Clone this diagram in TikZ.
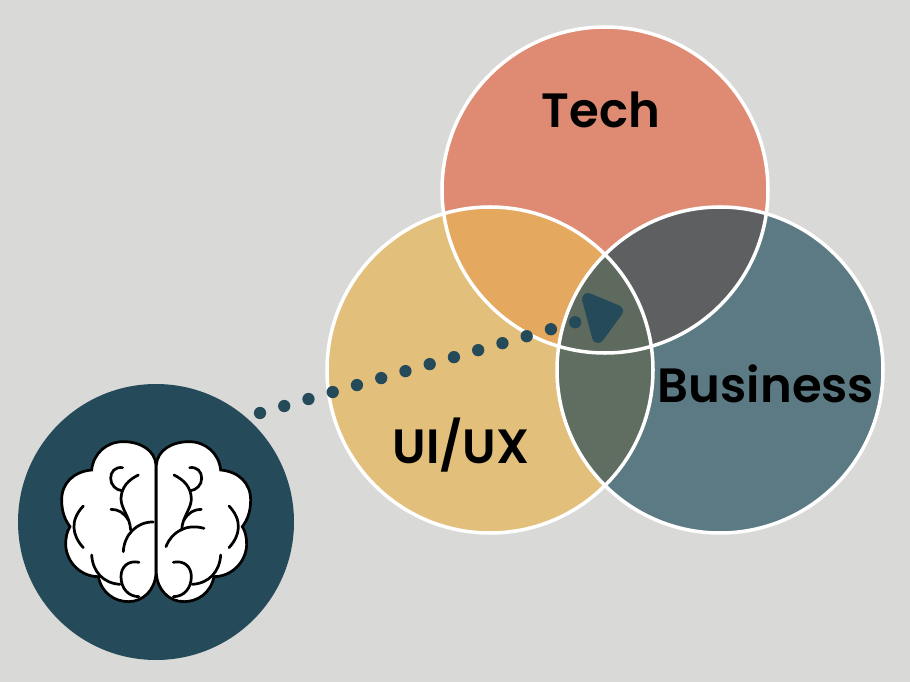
\documentclass[tikz,border=0pt]{standalone}
\usepackage{xcolor}
\usepackage{fontspec}
\setmainfont{Poppins SemiBold}
\definecolor{pagegrey}{HTML}{D9D9D7}
\definecolor{techred}{HTML}{DF8A72}
\definecolor{uxyellow}{HTML}{E2BF7B}
\definecolor{bizblue}{HTML}{5C7A83}
\definecolor{techux}{HTML}{E5A85F}
\definecolor{techbiz}{HTML}{5E5F61}
\definecolor{uxbiz}{HTML}{5F6E60}
\definecolor{allthree}{HTML}{5F6A5F}
\definecolor{darkteal}{HTML}{254B5A}
\newcommand{\techpath}{(605,190) circle (163)}
\newcommand{\uxpath}{(490,370) circle (163)}
\newcommand{\bizpath}{(720,370) circle (163)}
\tikzset{
  venntext/.style={font=\fontsize{27.4}{32}\selectfont, text=black, inner sep=0pt},
  vennline/.style={draw=white, line width=2pt},
  brainline/.style={draw=black, line width=1.55pt, line cap=round},
  dotline/.style={draw=darkteal, line width=7pt, line cap=round, dash pattern=on 0pt off 14.36pt}
}

\begin{document}
\begin{tikzpicture}[x=0.02cm,y=-0.02cm]
  \useasboundingbox (0,0) rectangle (910,682);
  \fill[pagegrey] (0,0) rectangle (910,682);
  % circles and their overlaps
  \fill[techred] \techpath;
  \fill[uxyellow] \uxpath;
  \fill[bizblue] \bizpath;
  \begin{scope}
    \clip \techpath;
    \fill[techux] \uxpath;
    \fill[techbiz] \bizpath;
  \end{scope}
  \begin{scope}
    \clip \uxpath;
    \fill[uxbiz] \bizpath;
    \clip \bizpath;
    \fill[allthree] \techpath;
  \end{scope}
  \draw[vennline] \techpath;
  \draw[vennline] \uxpath;
  \draw[vennline] \bizpath;
  \node[venntext] (tech) at (601,110) {Tech};
  \node[venntext] (uiux) at (461,445) {UI/UX};
  \node[venntext] (business) at (766,384) {Business};
  % dots and triangle
  \coordinate (dotstart) at (260,413);
  \coordinate (dotend) at (576,322);
  \draw[dotline] (dotstart) -- (dotend);
  \filldraw[darkteal, line width=6.8pt, line join=round] (588,299) -- (617,311) -- (598,337) -- cycle;
  % brain
  \fill[darkteal] (156,522) circle (138);
  \foreach \xs/\xo in {0.00667/40, -0.00667/272.33} {
    \begin{scope}[shift={(\xo,420)}, x=\xs cm, y=-0.00667cm]
      \draw[brainline, fill=white] (348,135) .. controls (345,90) and (300,65) .. (250,65)
        .. controls (200,65) and (160,100) .. (155,150)
        .. controls (100,155) and (65,190) .. (65,240)
        .. controls (65,275) and (75,300) .. (90,320)
        .. controls (80,335) and (77,355) .. (77,375)
        .. controls (80,430) and (125,470) .. (175,470)
        .. controls (185,520) and (225,545) .. (265,545)
        .. controls (310,545) and (345,510) .. (348,460) -- cycle;
      \draw[brainline] (248,143) .. controls (225,140) and (212,155) .. (212,175)
        .. controls (212,195) and (228,210) .. (245,212);
      \draw[brainline] (295,165) .. controls (265,180) and (245,200) .. (243,235)
        .. controls (242,265) and (270,290) .. (272,330);
      \draw[brainline] (213,268) .. controls (235,268) and (252,278) .. (265,300);
      \draw[brainline] (130,258) .. controls (90,300) and (95,345) .. (130,383);
      \draw[brainline] (155,405) .. controls (158,455) and (190,490) .. (240,493);
      \draw[brainline] (297,427) .. controls (265,420) and (243,440) .. (243,470)
        .. controls (243,505) and (265,530) .. (297,530);
    \end{scope}
  }
  \begin{scope}[shift={(40,420)}, x=0.00667cm, y=-0.00667cm]
    \draw[brainline] (340,306) .. controls (290,305) and (252,345) .. (250,395);
    \draw[brainline] (492,325) .. controls (440,310) and (395,335) .. (378,380);
  \end{scope}
\end{tikzpicture}
\end{document}
